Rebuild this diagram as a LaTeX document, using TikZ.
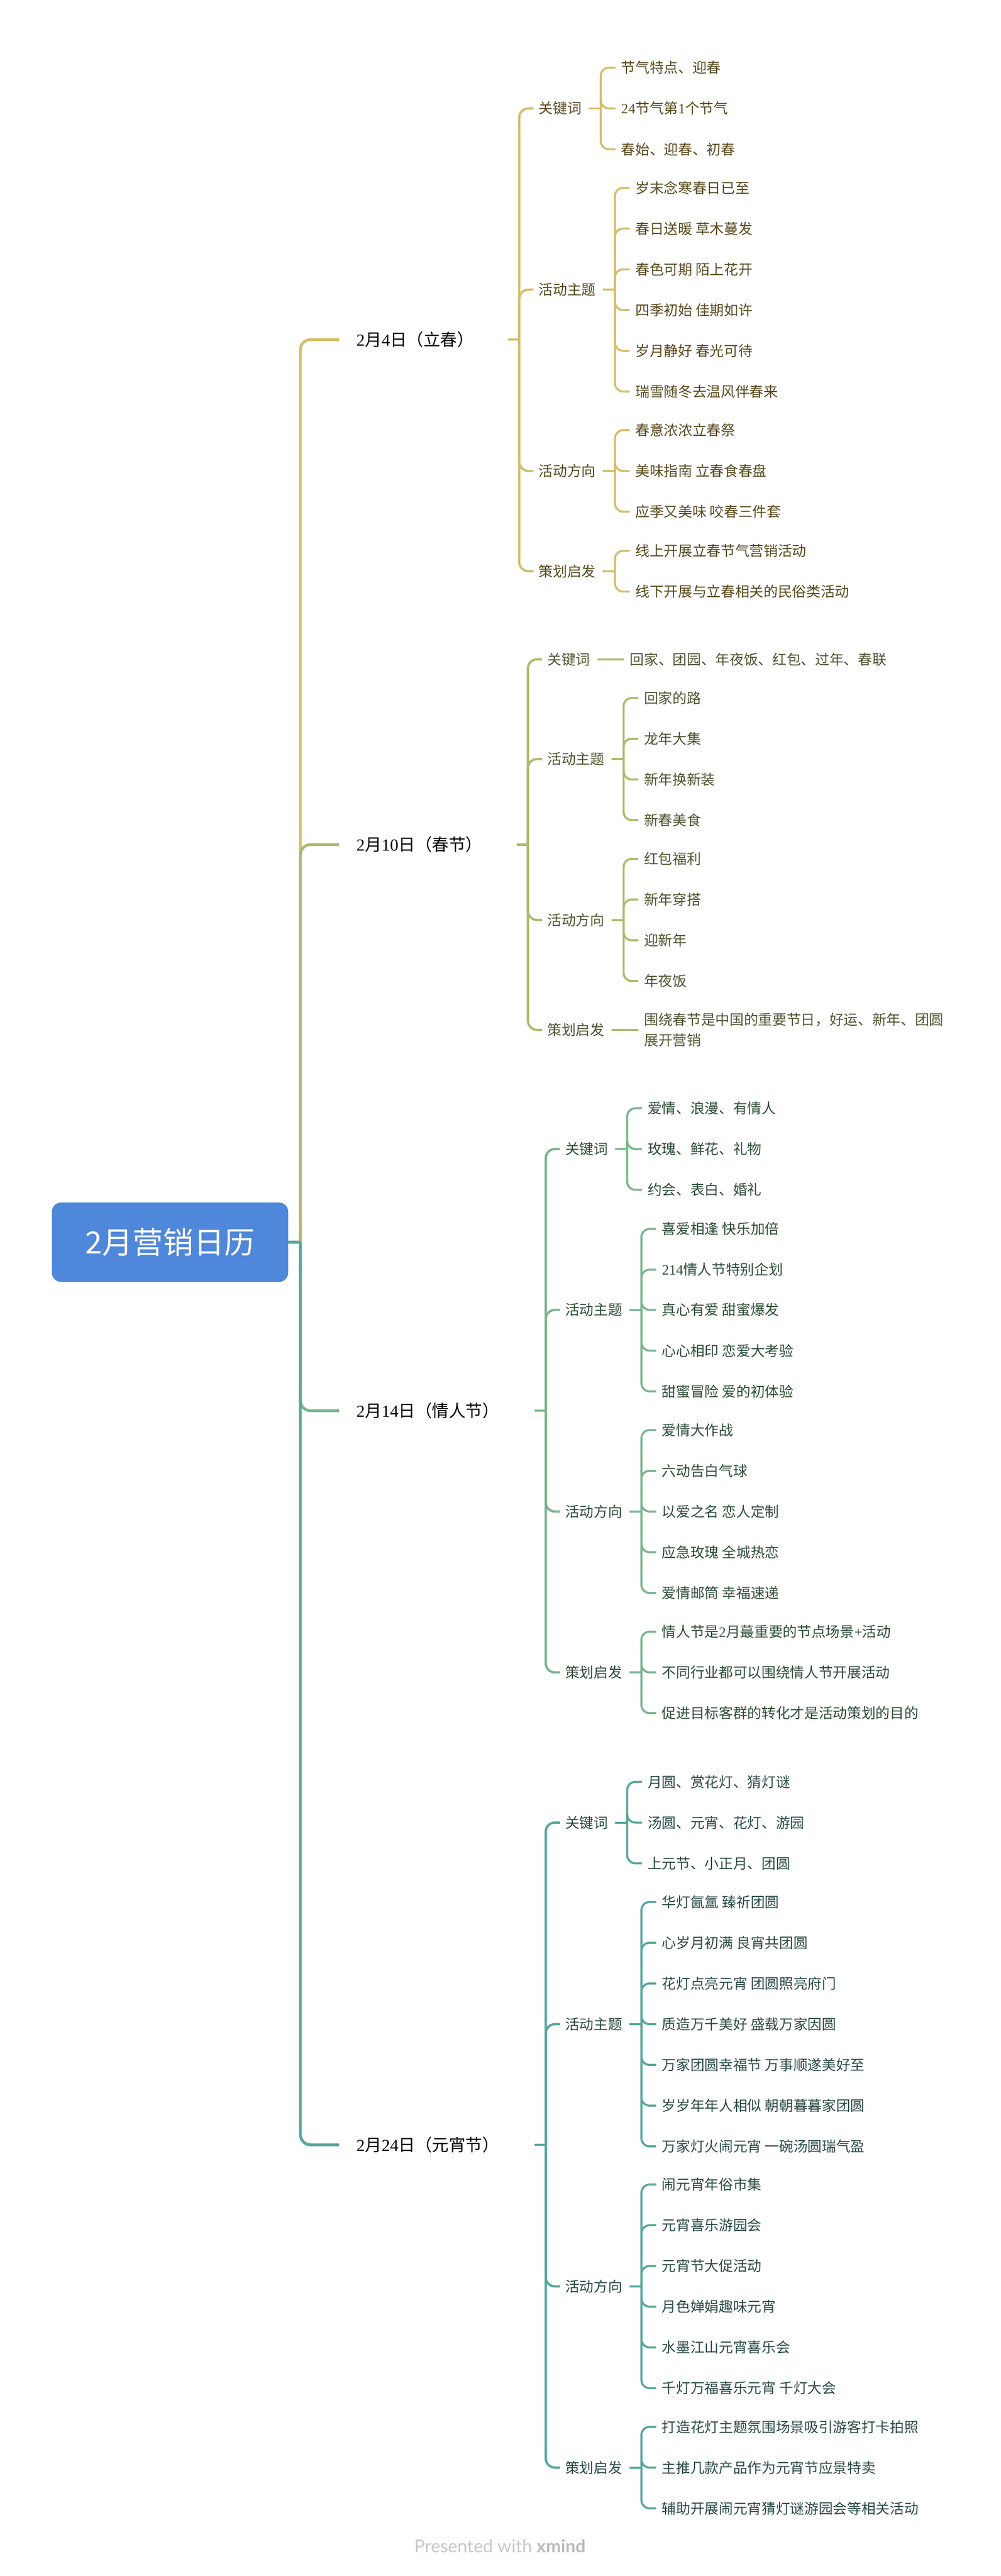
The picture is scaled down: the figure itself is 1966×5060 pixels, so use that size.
\documentclass[tikz,border=0pt]{standalone}
\usepackage{fontspec}
\setmainfont{Noto Sans CJK SC}
\newfontfamily\dg{Liberation Serif}
\newfontfamily\wmfont{Lato}
\definecolor{c1}{HTML}{D5BD6A}
\definecolor{c2}{HTML}{B0B86E}
\definecolor{c3}{HTML}{7AB58E}
\definecolor{c4}{HTML}{57A69C}
\definecolor{t1}{HTML}{584A1F}
\definecolor{t2}{HTML}{4C5530}
\definecolor{t3}{HTML}{2E4D38}
\definecolor{t4}{HTML}{2A4A45}
\definecolor{rootc}{HTML}{4F87DA}
\definecolor{wma}{HTML}{C8C8C8}
\definecolor{wmb}{HTML}{BBBBBB}
\newcommand\mystrut{\rule[-3.4pt]{0pt}{28pt}}
\tikzset{
  lnmain/.style={line width=5.5pt, rounded corners=20pt},
  lnsub/.style={line width=4.5pt, rounded corners=18pt},
  lnleaf/.style={line width=4pt, rounded corners=16pt},
  txlab/.style={anchor=west, inner sep=0pt, font=\fontsize{28}{34}\selectfont, text height=24.6pt, text depth=3.4pt},
  txml/.style={anchor=west, inner sep=0pt, align=left, font=\fontsize{28}{40}\selectfont},
  txbr/.style={anchor=west, inner sep=0pt, font=\fontsize{33}{40}\selectfont, text height=29pt, text depth=4pt, text=black},
}
% #1 id, #2 line colour, #3 text colour, #4 parent junction, #5 label x, #6 label y, #7 label, #8 x of child spine, #9 items
\newcommand\mygroup[9]{%
  \node[txlab,text=#3] (#1) at (#5,#6) {#7};
  \draw[lnsub,#2] (#4) |- ([xshift=-10pt]#1.west);
  \coordinate (#1j) at (#8,#6);
  \draw[lnleaf,#2] ([xshift=14pt]#1.east) -- (#1j);
  \foreach \yy/\tx [count=\ii] in {#9} {
    \node[txlab,text=#3] (#1i\ii) at (#8+40,\yy) {\tx};
    \draw[lnleaf,#2] (#1j) |- ([xshift=-11pt]#1i\ii.west);
  }%
}
\newcommand\mysingle[8]{%
  \node[txlab,text=#3] (#1) at (#5,#6) {#7};
  \draw[lnsub,#2] (#4) |- ([xshift=-10pt]#1.west);
  \node[txlab,text=#3] (#1i) at ([xshift=78pt]#1.east) {#8};
  \draw[lnleaf,#2] ([xshift=14pt]#1.east) -- ([xshift=-12pt]#1i.west);
}
\begin{document}
\begin{tikzpicture}[x=1pt,y=-1pt]
\fill[white] (0,0) rectangle (1966,5060);
\useasboundingbox (0,0) rectangle (1966,5060);

\coordinate (mj) at (590,2440);

% ---------- branch 1 ----------
\node[txbr] (b1) at (700,667) {{\dg 2}月{\dg 4}日（立春）};
\draw[lnmain,c1] (mj) |- ([xshift=-34pt]b1.west);
\coordinate (s1) at (1020,667);
\draw[lnsub,c1] ([xshift=-22pt]s1) -- (s1);
\mygroup{ga}{c1}{t1}{s1}{1058}{213}{关键词}{1180}{133/节气特点、迎春, 213/{\dg 24}节气第{\dg 1}个节气, 293/春始、迎春、初春}
\mygroup{gb}{c1}{t1}{s1}{1058}{569}{活动主题}{1208}{369/岁末念寒春日已至, 449/春日送暖 草木蔓发, 529/春色可期 陌上花开, 609/四季初始 佳期如许, 689/岁月静好 春光可待, 769/瑞雪随冬去温风伴春来}
\mygroup{gc}{c1}{t1}{s1}{1058}{925}{活动方向}{1208}{845/春意浓浓立春祭, 925/美味指南 立春食春盘, 1005/应季又美味 咬春三件套}
\mygroup{gd}{c1}{t1}{s1}{1058}{1122}{策划启发}{1208}{1082/线上开展立春节气营销活动, 1162/线下开展与立春相关的民俗类活动}

% ---------- branch 2 ----------
\node[txbr] (b2) at (700,1659) {{\dg 2}月{\dg 10}日（春节）};
\draw[lnmain,c2] (mj) |- ([xshift=-34pt]b2.west);
\coordinate (s2) at (1037,1659);
\draw[lnsub,c2] ([xshift=-22pt]s2) -- (s2);
\mysingle{ha}{c2}{t2}{s2}{1075}{1295}{关键词}{回家、团园、年夜饭、红包、过年、春联}
\mygroup{hb}{c2}{t2}{s2}{1075}{1491}{活动主题}{1225}{1371/回家的路, 1451/龙年大集, 1531/新年换新装, 1611/新春美食}
\mygroup{hc}{c2}{t2}{s2}{1075}{1807}{活动方向}{1225}{1687/红包福利, 1767/新年穿搭, 1847/迎新年, 1927/年夜饭}
\node[txlab,text=t2] (hd) at (1075,2023) {策划启发};
\draw[lnsub,c2] (s2) |- ([xshift=-10pt]hd.west);
\node[txml,text=t2] (hdi) at ([xshift=78pt]hd.east) {\mystrut 围绕春节是中国的重要节日，好运、新年、团圆\\\mystrut 展开营销};
\draw[lnleaf,c2] ([xshift=14pt]hd.east) -- ([xshift=-12pt]hdi.west);

% ---------- branch 3 ----------
\node[txbr] (b3) at (700,2771) {{\dg 2}月{\dg 14}日（情人节）};
\draw[lnmain,c3] (mj) |- ([xshift=-34pt]b3.west);
\coordinate (s3) at (1072,2771);
\draw[lnsub,c3] ([xshift=-22pt]s3) -- (s3);
\mygroup{ka}{c3}{t3}{s3}{1110}{2257}{关键词}{1232}{2177/爱情、浪漫、有情人, 2257/玫瑰、鲜花、礼物, 2337/约会、表白、婚礼}
\mygroup{kb}{c3}{t3}{s3}{1110}{2573}{活动主题}{1260}{2414/喜爱相逢 快乐加倍, 2494/{\dg 214}情人节特别企划, 2573/真心有爱 甜蜜爆发, 2653/心心相印 恋爱大考验, 2733/甜蜜冒险 爱的初体验}
\mygroup{kc}{c3}{t3}{s3}{1110}{2969}{活动方向}{1260}{2809/爱情大作战, 2889/六动告白气球, 2969/以爱之名 恋人定制, 3049/应急玫瑰 全城热恋, 3129/爱情邮筒 幸福速递}
\mygroup{kd}{c3}{t3}{s3}{1110}{3285}{策划启发}{1260}{3205/情人节是{\dg 2}月蕞重要的节点场景{\dg +}活动, 3285/不同行业都可以围绕情人节开展活动, 3365/促进目标客群的转化才是活动策划的目的}

% ---------- branch 4 ----------
\node[txbr] (b4) at (700,4213) {{\dg 2}月{\dg 24}日（元宵节）};
\draw[lnmain,c4] (mj) |- ([xshift=-34pt]b4.west);
\coordinate (s4) at (1072,4213);
\draw[lnsub,c4] ([xshift=-22pt]s4) -- (s4);
\mygroup{ma}{c4}{t4}{s4}{1110}{3580}{关键词}{1232}{3500/月圆、赏花灯、猜灯谜, 3580/汤圆、元宵、花灯、游园, 3660/上元节、小正月、团圆}
\mygroup{mb}{c4}{t4}{s4}{1110}{3976}{活动主题}{1260}{3736/华灯氤氲 臻祈团圆, 3816/心岁月初满 良宵共团圆, 3896/花灯点亮元宵 团圆照亮府门, 3976/质造万千美好 盛载万家因圆, 4056/万家团圆幸福节 万事顺遂美好至, 4136/岁岁年年人相似 朝朝暮暮家团圆, 4216/万家灯火闹元宵 一碗汤圆瑞气盈}
\mygroup{mc}{c4}{t4}{s4}{1110}{4491}{活动方向}{1260}{4291/闹元宵年俗市集, 4371/元宵喜乐游园会, 4451/元宵节大促活动, 4531/月色婵娟趣味元宵, 4611/水墨江山元宵喜乐会, 4691/千灯万福喜乐元宵 千灯大会}
\mygroup{md}{c4}{t4}{s4}{1110}{4847}{策划启发}{1260}{4767/打造花灯主题氛围场景吸引游客打卡拍照, 4847/主推几款产品作为元宵节应景特卖, 4927/辅助开展闹元宵猜灯谜游园会等相关活动}

% ---------- root ----------
\node[fill=rootc, rounded corners=18pt, minimum width=464pt, minimum height=156pt, inner sep=0pt,
      text=white, font=\fontsize{60}{72}\selectfont, text height=52.8pt, text depth=7.2pt] (root) at (334,2440) {2月营销日历};
\draw[lnmain,c4] (root.east) -- (mj);

% ---------- watermark ----------
\node[font=\wmfont\fontsize{35}{42}\selectfont, inner sep=0pt] (wm) at (982,5001)
  {\textcolor{wma}{Presented with} \textcolor{wmb}{\bfseries xmind}};
\end{tikzpicture}
\end{document}
